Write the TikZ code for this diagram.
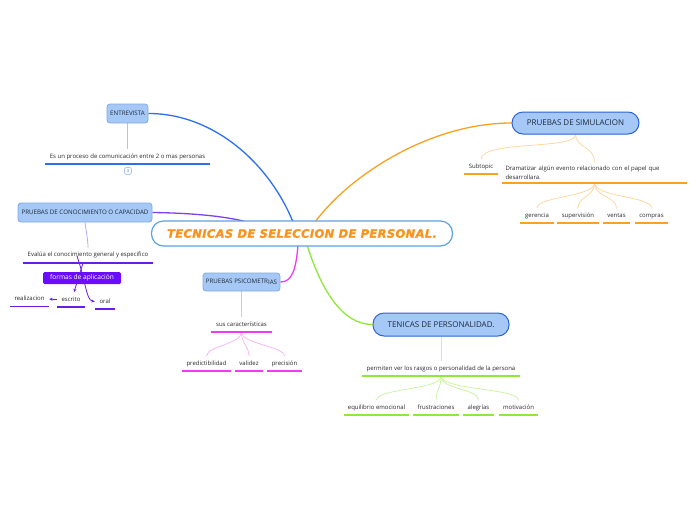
\documentclass[tikz,border=0pt]{standalone}
\usepackage{fontspec}
\setmainfont{Open Sans}
\newfontfamily\titlefont[LetterSpace=3,FakeBold=1.2]{DejaVu Sans}
\usetikzlibrary{arrows.meta,calc,backgrounds}
\definecolor{blueM}{HTML}{2E6FF2}
\definecolor{blueL}{HTML}{A9C4F5}
\definecolor{purM}{HTML}{8040F0}
\definecolor{purU}{HTML}{6A1DE8}
\definecolor{purL}{HTML}{B99CF5}
\definecolor{purBox}{HTML}{6A0DFF}
\definecolor{orM}{HTML}{F9A21E}
\definecolor{orL}{HTML}{FCD49A}
\definecolor{pinkM}{HTML}{F03CF0}
\definecolor{pinkL}{HTML}{F7B0F7}
\definecolor{greenM}{HTML}{8FE83A}
\definecolor{greenL}{HTML}{C8F2A0}
\definecolor{boxfill}{HTML}{A6C8F7}
\definecolor{boxline}{HTML}{7FA9EA}
\definecolor{pillline}{HTML}{2A63D4}
\definecolor{centralline}{HTML}{5BA2E0}
\definecolor{txt}{HTML}{2A2A2A}
\definecolor{boxtxt}{HTML}{1C2B3A}
\definecolor{titleor}{HTML}{F7931E}
\begin{document}
\begin{tikzpicture}[x=1pt,y=-1pt,
  box/.style={draw=boxline, fill=boxfill, rounded corners=3pt, line width=0.8pt, inner sep=0pt,
    font=\fontsize{6.2}{7}\selectfont, text=boxtxt},
  pill/.style={box, rounded corners=11pt, draw=pillline, line width=1pt, font=\fontsize{8}{9}\selectfont},
  sub/.style={anchor=south, inner xsep=0pt, inner ysep=4.3pt, text height=4.4pt, text depth=1.4pt,
    font=\fontsize{6}{7}\selectfont, text=txt},
  mainbr/.style={line width=1.3pt},
  lightbr/.style={line width=0.7pt},
  arr/.style={purU, line width=0.8pt, -{Stealth[length=3.5pt,width=3pt]}}
]
\useasboundingbox (0,0) rectangle (696,520);

% central
\node[draw=centralline, fill=white, line width=1.2pt, rounded corners=12pt, minimum width=301pt, minimum height=25pt, inner sep=0pt,
  text=titleor, font=\titlefont\fontsize{11.5}{13}\selectfont\bfseries\itshape] (central) at (302,233.5) {TECNICAS DE SELECCION DE PERSONAL.};

% level-1 boxes
\node[box, minimum width=41pt, minimum height=19pt] (entr) at (127.5,113.5) {ENTREVISTA};
\node[box, minimum width=134pt, minimum height=19pt] (conoc) at (85,212.5) {PRUEBAS DE CONOCIMIENTO O CAPACIDAD};
\node[box, minimum width=77pt, minimum height=18pt] (psico) at (241.5,282) {PRUEBAS PSICOMETR\raisebox{-1.2pt}{IAS}};
\node[pill, minimum width=127pt, minimum height=22pt] (sim) at (575.5,123) {PRUEBAS DE SIMULACION};
\node[pill, minimum width=136pt, minimum height=23pt] (pers) at (441,324.5) {TENICAS DE PERSONALIDAD.};

% entrevista
\node[sub, minimum width=165pt] (es) at (127.5,164) {Es un proceso de comunicación entre 2 o mas personas};
\node[draw=blueL, fill=white, rounded corners=1.5pt, line width=0.6pt, minimum width=7pt, minimum height=7pt, inner sep=0pt,
  font=\fontsize{4}{4}\selectfont, text=blueM] (icon) at (128,171) {3};

% conocimiento
\node[sub, minimum width=130pt] (ev) at (88,262.5) {Evalúa el conocimiento general y especifico};
\node[fill=purBox, rounded corners=1.5pt, minimum width=78pt, minimum height=12pt, inner sep=0pt, text=white,
  font=\fontsize{6.6}{7}\selectfont] (formas) at (82,278) {formas de aplicación};
\node[sub, minimum width=39pt] (real) at (29.5,306.5) {realizacion};
\node[sub, minimum width=28pt] (escr) at (71,307) {escrito};
\node[sub, minimum width=20pt] (oral) at (105,309) {oral};

% psicometrias
\node[sub, minimum width=61pt] (sus) at (241.5,332) {sus características};
\node[sub, minimum width=49pt] (pred) at (206.5,371) {predictibilidad};
\node[sub, minimum width=28pt] (val) at (249,371) {validez};
\node[sub, minimum width=35pt] (prec) at (284.5,371) {precisión};

% simulacion
\node[sub, minimum width=34pt] (subt) at (481,174) {Subtopic};
\node[anchor=south, minimum width=185pt, text width=178pt, align=left, inner xsep=3.5pt, inner ysep=3.5pt,
  font=\fontsize{6}{9}\selectfont, text=txt] (dram) at (594.5,183)
  {Dramatizar algún evento relacionado con el papel que\\desarrollara.};
\node[sub, minimum width=34pt] (ger) at (537,223) {gerencia};
\node[sub, minimum width=42pt] (sup) at (578,223) {supervisión};
\node[sub, minimum width=27pt] (ven) at (616.5,223) {ventas};
\node[sub, minimum width=33pt] (comp) at (651.5,223) {compras};

% personalidad
\node[sub, minimum width=158pt] (perm) at (441,376) {permiten ver los rasgos o personalidad de la persona};
\node[sub, minimum width=65pt] (equi) at (376.5,415) {equilibrio emocional};
\node[sub, minimum width=46pt] (frus) at (436,415) {frustraciones};
\node[sub, minimum width=31pt] (aleg) at (478.5,415) {alegrías};
\node[sub, minimum width=39pt] (moti) at (518.5,415) {motivación};

% underlines
\foreach \n/\c/\w in {es/blueM/2, ev/purU/2, real/purU/1.5, escr/purU/1.5, oral/purU/1.5,
  sus/pinkM/2, pred/pinkM/1.5, val/pinkM/1.5, prec/pinkM/1.5,
  subt/orM/1.5, dram/orM/2, ger/orM/1.5, sup/orM/1.5, ven/orM/1.5, comp/orM/1.5,
  perm/greenM/2, equi/greenM/1.5, frus/greenM/1.5, aleg/greenM/1.5, moti/greenM/1.5}
  \draw[\c, line width=\w pt] (\n.south west) -- (\n.south east);

% attach points on the central node
\coordinate (cB) at (293,222);
\coordinate (cP) at (247,222);
\coordinate (cO) at (315,222);
\coordinate (cM) at (298,245);
\coordinate (cG) at (307,245);
\coordinate (evA) at (83,263);
\coordinate (evB) at (77,256);

\begin{scope}[on background layer]
\fill[white] (0,0) rectangle (696,520);
% main branches
\draw[mainbr, blueM] (entr.east) .. controls (215,113.5) and (270,165) .. (cB);
\draw[mainbr, purM] (conoc.east) .. controls (190,213) and (225,216) .. (cP);
\draw[mainbr, orM] (cO) .. controls (350,175) and (430,123) .. (sim.west);
\draw[mainbr, pinkM] (cM) .. controls (296,270) and (292,282) .. (psico.east);
\draw[mainbr, greenM] (cG) .. controls (322,292) and (343,324.5) .. (pers.west);
% light sub-branches
\draw[lightbr, blueL] (entr.south) -- (es.north);
\draw[lightbr, purL] (conoc.south) .. controls +(1,8) and +(0,-8) .. (ev.north);
\draw[lightbr, pinkL] (psico.south) -- (sus.north);
\foreach \c in {pred,val,prec}
  \draw[lightbr, pinkL] (sus.south) .. controls +(0,12) and +(0,-10) .. (\c.north);
\draw[lightbr, orL] (sim.south) .. controls (576,150) and (483,140) .. (subt.north);
\draw[lightbr, orL] (sim.south) .. controls (576,148) and (594,146) .. (dram.north);
\foreach \c in {ger,sup,ven,comp}
  \draw[lightbr, orL] (dram.south) .. controls +(0,14) and +(0,-12) .. (\c.north);
\draw[lightbr, greenL] (pers.south) -- (perm.north);
\foreach \c in {equi,frus,aleg,moti}
  \draw[lightbr, greenL] (perm.south) .. controls +(0,14) and +(0,-12) .. (\c.north);
% arrows
\draw[arr] (evA) -- ($(escr.north)+(3,0)$);
\draw[arr] (evB) .. controls (86,282) and (86,300) .. (oral.west);
\draw[arr] (escr.west) -- (real.east);
\end{scope}
\end{tikzpicture}
\end{document}
